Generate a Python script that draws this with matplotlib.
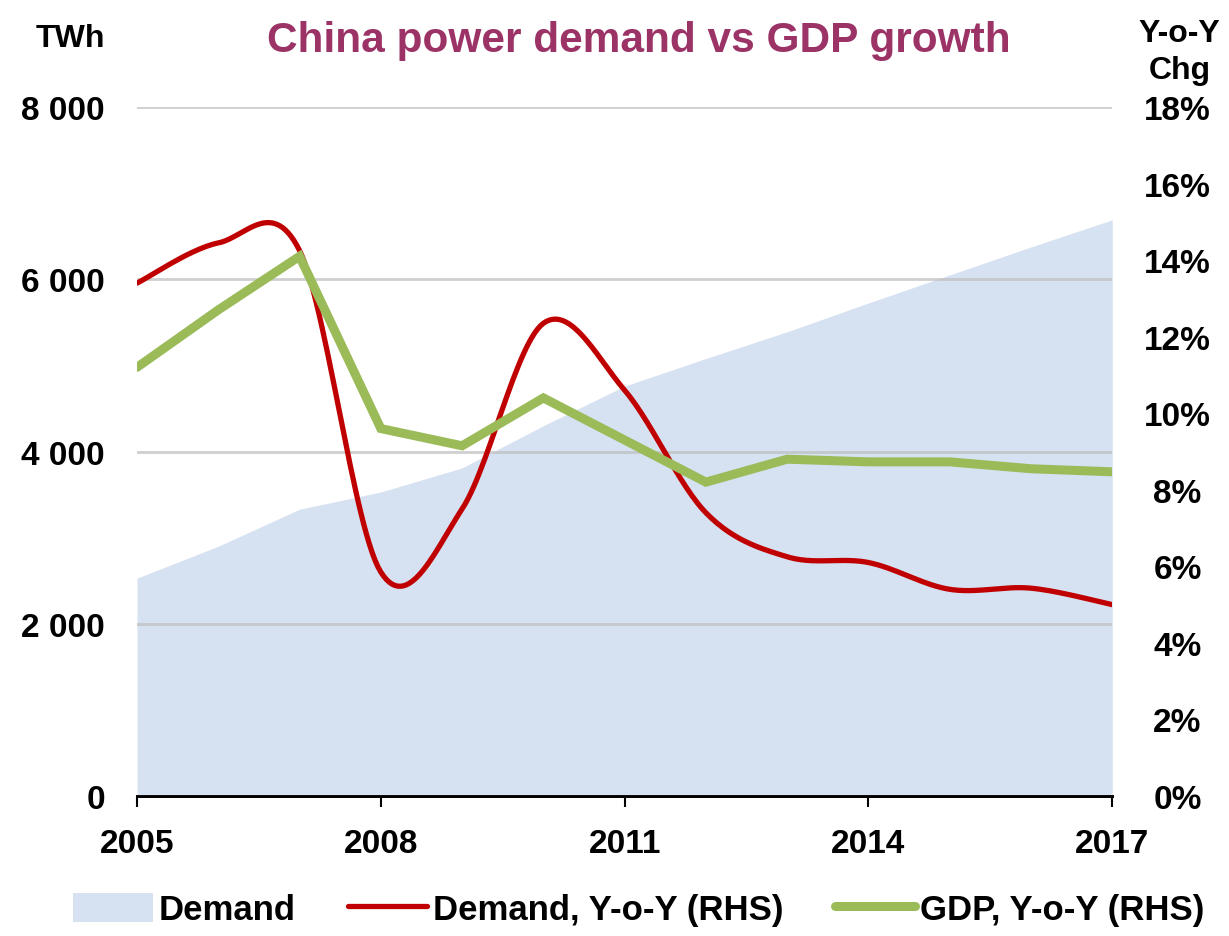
import numpy as np
import matplotlib.pyplot as plt
from matplotlib.patches import Patch
from matplotlib.lines import Line2D

plt.rcParams['font.family'] = ['Liberation Sans', 'DejaVu Sans']
plt.rcParams['font.weight'] = 'bold'

# data
years = [2005, 2006, 2007, 2008, 2009, 2010, 2011, 2012, 2013, 2014, 2015, 2016, 2017]
demand_twh = [2530, 2900, 3330, 3530, 3810, 4300, 4760, 5080, 5390, 5725, 6050, 6375, 6690]
demand_yoy = [13.4, 14.45, 14.25, 5.85, 7.5, 12.35, 10.6, 7.4, 6.25, 6.1, 5.4, 5.43, 5.0]
gdp_yoy = [11.2, 12.7, 14.1, 9.6, 9.15, 10.4, 9.3, 8.2, 8.8, 8.73, 8.73, 8.55, 8.47]

left_ticks = [0, 2000, 4000, 6000, 8000]
left_labels = ['0', '2 000', '4 000', '6 000', '8 000']
right_ticks = [0, 2, 4, 6, 8, 10, 12, 14, 16, 18]
year_ticks = [2005, 2008, 2011, 2014, 2017]

AREA = '#D6E1F2'
RED = '#C00000'
GREEN = '#9BBB59'
TITLE = '#9B3366'


def smooth(x, y, n=30):
    # Excel-like smoothed line: cubic Bezier through every point
    x = np.asarray(x, float)
    y = np.asarray(y, float)
    pts = np.column_stack([x, y])
    out = []
    for i in range(len(pts) - 1):
        p0 = pts[max(i - 1, 0)]
        p1 = pts[i]
        p2 = pts[i + 1]
        p3 = pts[min(i + 2, len(pts) - 1)]
        c1 = p1 + (p2 - p0) / 6
        c2 = p2 - (p3 - p1) / 6
        t = np.linspace(0, 1, n)[:, None]
        seg = ((1 - t) ** 3 * p1 + 3 * (1 - t) ** 2 * t * c1
               + 3 * (1 - t) * t ** 2 * c2 + t ** 3 * p2)
        out.append(seg if i == 0 else seg[1:])
    out = np.vstack(out)
    return out[:, 0], out[:, 1]


fig = plt.figure(figsize=(12.29, 9.37), dpi=100)
ax = fig.add_axes([0.1115, 0.1494, 0.7935, 0.7353])
ax2 = ax.twinx()

ax.fill_between(years, demand_twh, 0, color=AREA, linewidth=0, zorder=1)
ax.set_ylim(0, 8000)
ax.set_xlim(2005, 2017)
ax.set_yticks(left_ticks)
ax.set_yticklabels(left_labels)
ax.grid(axis='y', color='#BFBFBF', linewidth=2, alpha=0.75, zorder=2)
ax.set_axisbelow(False)
ax.tick_params(axis='y', length=0, pad=23, labelsize=24)
ax.set_xticks(year_ticks)
ax.tick_params(axis='x', direction='out', length=8, width=1.5, pad=15, labelsize=24)

xs, ys = smooth(years, demand_yoy)
ax2.plot(xs, ys, color=RED, linewidth=3.8, solid_capstyle='round')
ax2.plot(years, gdp_yoy, color=GREEN, linewidth=6.5, solid_capstyle='round', solid_joinstyle='miter')
ax2.set_ylim(0, 18)
ax2.set_yticks(right_ticks)
ax2.set_yticklabels([f'{v}%' for v in right_ticks], ha='center')
ax2.tick_params(axis='y', length=0, pad=47, labelsize=24)

for a in (ax, ax2):
    for s in ('left', 'right', 'top'):
        a.spines[s].set_visible(False)
    a.spines['bottom'].set_linewidth(2)
    a.spines['bottom'].set_color('black')

fig.text(0.52, 0.956, 'China power demand vs GDP growth', color=TITLE,
         fontsize=30.5, fontweight='bold', ha='center', va='center')
fig.text(0.057, 0.958, 'TWh', fontsize=23, fontweight='bold', ha='center', va='center')
fig.text(0.96, 0.944, 'Y-o-Y\nChg', fontsize=23, fontweight='bold', ha='center', va='center',
         linespacing=1.3)

handles = [Patch(facecolor=AREA, edgecolor='none'),
           Line2D([], [], color=RED, linewidth=3.8, solid_capstyle='round'),
           Line2D([], [], color=GREEN, linewidth=6.5, solid_capstyle='round')]
labels = ['Demand', 'Demand, Y-o-Y (RHS)', 'GDP, Y-o-Y (RHS)']
fig.legend(handles, labels, loc='center', bbox_to_anchor=(0.52, 0.028), ncol=3,
           frameon=False, fontsize=25, handlelength=2.3, handleheight=0.9,
           handletextpad=0.15, columnspacing=1.5)

fig.savefig('out.png', dpi=100)
